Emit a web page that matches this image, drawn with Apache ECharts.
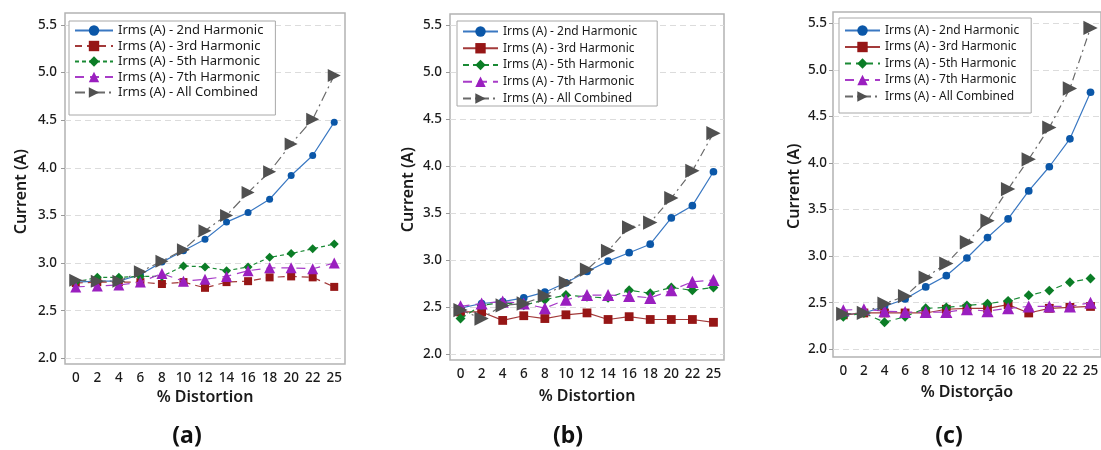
<!DOCTYPE html>
<html>
<head>
<meta charset="utf-8">
<script src="https://cdn.jsdelivr.net/npm/echarts@6/dist/echarts.min.js"></script>
<style>
  html, body { margin: 0; padding: 0; background: #fff; }
  #chart { width: 1101px; height: 450px; }
</style>
</head>
<body>
<div id="chart"></div>
<script>
// categories (% distortion) and y tick labels
const distortion = ['0', '2', '4', '6', '8', '10', '12', '14', '16', '18', '20', '22', '25'];
const currentTicks = [2.0, 2.5, 3.0, 3.5, 4.0, 4.5, 5.0, 5.5];
const seriesNames = [
  'Irms (A) - 2nd Harmonic',
  'Irms (A) - 3rd Harmonic',
  'Irms (A) - 5th Harmonic',
  'Irms (A) - 7th Harmonic',
  'Irms (A) - All Combined'
];

// panel (a)
const a2nd = [2.80, 2.81, 2.81, 2.88, 3.01, 3.13, 3.25, 3.43, 3.53, 3.67, 3.92, 4.13, 4.48];
const a3rd = [2.79, 2.80, 2.80, 2.80, 2.78, 2.80, 2.74, 2.80, 2.81, 2.85, 2.86, 2.85, 2.75];
const a5th = [2.80, 2.85, 2.85, 2.86, 2.86, 2.97, 2.96, 2.92, 2.96, 3.06, 3.10, 3.15, 3.20];
const a7th = [2.75, 2.76, 2.77, 2.80, 2.89, 2.81, 2.83, 2.86, 2.92, 2.95, 2.95, 2.94, 3.00];
const aAll = [2.82, 2.81, 2.81, 2.91, 3.02, 3.14, 3.34, 3.50, 3.74, 3.96, 4.25, 4.51, 4.97];

// panel (b)
const b2nd = [2.49, 2.54, 2.56, 2.60, 2.66, 2.76, 2.88, 2.99, 3.08, 3.17, 3.45, 3.58, 3.94];
const b3rd = [2.45, 2.45, 2.36, 2.41, 2.38, 2.42, 2.44, 2.37, 2.40, 2.37, 2.37, 2.37, 2.34];
const b5th = [2.38, 2.52, 2.55, 2.52, 2.58, 2.63, 2.61, 2.60, 2.68, 2.65, 2.71, 2.68, 2.71];
const b7th = [2.51, 2.54, 2.56, 2.54, 2.49, 2.58, 2.63, 2.63, 2.62, 2.60, 2.68, 2.77, 2.79];
const bAll = [2.47, 2.38, 2.52, 2.54, 2.62, 2.76, 2.90, 3.10, 3.35, 3.40, 3.66, 3.95, 4.35];

// panel (c)
const c2nd = [2.37, 2.39, 2.46, 2.54, 2.67, 2.79, 2.98, 3.20, 3.40, 3.70, 3.96, 4.26, 4.76];
const c3rd = [2.37, 2.39, 2.39, 2.39, 2.39, 2.43, 2.44, 2.44, 2.48, 2.39, 2.44, 2.45, 2.46];
const c5th = [2.35, 2.39, 2.29, 2.35, 2.44, 2.45, 2.47, 2.49, 2.52, 2.58, 2.63, 2.72, 2.76];
const c7th = [2.42, 2.43, 2.41, 2.40, 2.40, 2.40, 2.43, 2.41, 2.44, 2.46, 2.46, 2.46, 2.50];
const cAll = [2.38, 2.39, 2.49, 2.57, 2.77, 2.92, 3.15, 3.38, 3.72, 4.04, 4.38, 4.80, 5.45];

const FONT = '"Noto Sans", "Open Sans", sans-serif';

// layout per panel: frame box, data box (2.0 .. 5.5), label spots
const panels = [
  { key: 'a', data: [a2nd, a3rd, a5th, a7th, aAll], xName: '% Distortion',
    frame: { left: 65, top: 13, width: 280, height: 351 }, dataTop: 25, dataBottom: 358.3,
    xGap: 24, yGap: 36, yMargin: 8,
    legend: { left: 69, top: 21, padding: [3, 12, 16, 5], itemGap: 2.5, itemWidth: 38, font: 13 },
    dash: ['solid', [7, 5], [4, 3], [9, 6], [10, 4, 2, 4]], sym: 1, labelX: 182 },
  { key: 'b', data: [b2nd, b3rd, b5th, b7th, bAll], xName: '% Distortion',
    frame: { left: 450, top: 14, width: 274, height: 346 }, dataTop: 25, dataBottom: 354.3,
    xGap: 28, yGap: 34, yMargin: 8,
    legend: { left: 457, top: 21, padding: [4, 20, 1, 5], itemGap: 3.75, itemWidth: 35, font: 12 },
    dash: ['solid', 'solid', [6, 4], [9, 6], [8, 4, 2, 4]], sym: 1.1, labelX: 563 },
  { key: 'c', data: [c2nd, c3rd, c5th, c7th, cAll], xName: '% Distorção',
    frame: { left: 833, top: 12, width: 274, height: 345 }, dataTop: 23.3, dataBottom: 349.3,
    xGap: 27, yGap: 31, yMargin: 6,
    legend: { left: 839, top: 18, padding: [6, 12, 10, 5], itemGap: 3.5, itemWidth: 35, font: 12 },
    dash: ['solid', 'solid', [6, 5], [9, 6], [8, 4, 2, 4]], sym: 1.1, labelX: 944 }
];

const lineColors = ['#3a78c2', '#a33a3a', '#1a8a35', '#a83cc8', '#6a6a6a'];
const markColors = ['#0b57a8', '#961616', '#0b7d26', '#9a1fbf', '#505050'];
const symbols = ['circle', 'rect', 'diamond', 'triangle', 'triangle'];
const symSizes = [7, 8, 9, 11, 13];
const symRotate = [0, 0, 0, 0, -90];

const grid = [], xAxis = [], yAxis = [], legend = [], series = [], title = [];

panels.forEach(function (p, i) {
  // data grid spans the tick range 2.0 .. 5.5
  grid.push({
    left: p.frame.left, width: p.frame.width,
    top: p.dataTop, height: p.dataBottom - p.dataTop,
    show: false
  });
  xAxis.push({
    gridIndex: i, type: 'category', data: distortion, boundaryGap: true,
    offset: p.frame.top + p.frame.height - p.dataBottom,
    axisLine: { show: false }, axisTick: { show: false },
    axisLabel: { color: '#1a1a1a', fontSize: 13.5, fontFamily: FONT, fontWeight: 500, margin: 7, interval: 0 },
    name: p.xName, nameLocation: 'middle', nameGap: p.xGap,
    nameTextStyle: { color: '#1a1a1a', fontSize: 16, fontFamily: FONT, fontWeight: 600 }
  });
  yAxis.push({
    gridIndex: i, type: 'value',
    min: currentTicks[0], max: currentTicks[currentTicks.length - 1],
    interval: currentTicks[1] - currentTicks[0],
    axisLine: { show: false },
    axisTick: { show: true, length: 4, lineStyle: { color: '#999' } },
    axisLabel: { color: '#1a1a1a', fontSize: 13.5, fontFamily: FONT, fontWeight: 500, margin: p.yMargin,
      formatter: function (v) { return v.toFixed(1); } },
    splitLine: { show: true, lineStyle: { color: '#dcdcdc', type: [6, 4], width: 1 } },
    name: 'Current (A)', nameLocation: 'middle', nameGap: p.yGap,
    nameTextStyle: { color: '#1a1a1a', fontSize: 16, fontFamily: FONT, fontWeight: 600 }
  });

  legend.push({
    left: p.legend.left, top: p.legend.top, orient: 'vertical',
    padding: p.legend.padding, itemGap: p.legend.itemGap,
    itemWidth: p.legend.itemWidth, itemHeight: 13,
    backgroundColor: '#fff', borderColor: '#a8a8a8', borderWidth: 1,
    selectedMode: false,
    data: seriesNames.map(function (n) { return p.key + '|' + n; }),
    formatter: function (n) { return n.split('|')[1]; },
    textStyle: { color: '#1a1a1a', fontSize: p.legend.font, fontFamily: FONT, lineHeight: 13 }
  });

  p.data.forEach(function (vals, k) {
    series.push({
      name: p.key + '|' + seriesNames[k],
      type: 'line', xAxisIndex: i, yAxisIndex: i,
      data: vals,
      symbol: symbols[k], symbolSize: symSizes[k] * p.sym, symbolRotate: symRotate[k],
      showAllSymbol: true,
      lineStyle: { color: lineColors[k], width: 1.2, type: p.dash[k] },
      itemStyle: { color: markColors[k] },
      z: 2 + k,
      animation: false
    });
  });

  title.push({
    text: '{p|(}{b|' + p.key + '}{p|)}',
    left: p.labelX, top: 420, textAlign: 'center',
    textStyle: {
      rich: {
        p: { fontSize: 23, fontFamily: FONT, color: '#111' },
        b: { fontSize: 23, fontFamily: FONT, color: '#111', fontWeight: 'bold' }
      }
    }
  });
});

// outer plot frames
panels.forEach(function (p) {
  grid.push({
    left: p.frame.left, top: p.frame.top, width: p.frame.width, height: p.frame.height,
    show: true, borderColor: '#b3b3b3', borderWidth: 1.5, backgroundColor: 'transparent'
  });
});

const chart = echarts.init(document.getElementById('chart'));
chart.setOption({
  animation: false,
  backgroundColor: '#fff',
  title: title,
  grid: grid,
  xAxis: xAxis,
  yAxis: yAxis,
  legend: legend,
  series: series
});
</script>
</body>
</html>
